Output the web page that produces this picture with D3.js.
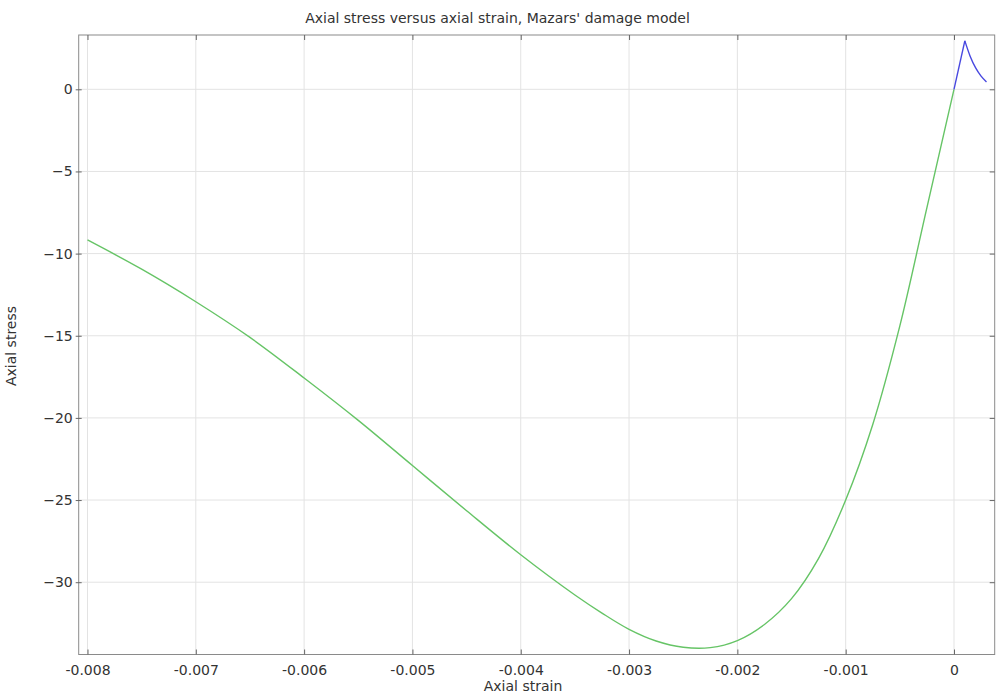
<!DOCTYPE html>
<html>
<head>
<meta charset="utf-8">
<script src="https://cdn.jsdelivr.net/npm/d3@7"></script>
<style>
  body { margin: 0; background: #fff; }
  text { font-family: "DejaVu Sans", sans-serif; fill: #333; }
</style>
</head>
<body>
<div id="chart"></div>
<script>
// courbe contrainte / deformation axiale (modele de Mazars)
const chartTitle = "Axial stress versus axial strain, Mazars' damage model"
const xLabel = "Axial strain", yLabel = "Axial stress"

// branche compression (vert)
const compStrain = [-0.008, -0.0075, -0.007, -0.0065, -0.006, -0.0055, -0.005, -0.0045, -0.004,
  -0.0035, -0.00325, -0.003, -0.00275, -0.0025, -0.00225, -0.002, -0.00175, -0.0015, -0.00125,
  -0.001, -0.00075, -0.0005, -0.00025, 0]
const compStress = [-9.17, -10.95, -12.93, -15.1, -17.57, -20.15, -22.9, -25.65, -28.33,
  -30.78, -31.88, -32.87, -33.58, -33.96, -33.98, -33.55, -32.57, -31.0, -28.55,
  -25.0, -20.4, -14.4, -7.2, 0]
// branche traction (bleu)
const tensStrain = [0, 0.0001, 0.00015, 0.0002, 0.00025, 0.0003]
const tensStress = [0, 2.95, 2.0, 1.3, 0.8, 0.45]

const xTicks = [-0.008, -0.007, -0.006, -0.005, -0.004, -0.003, -0.002, -0.001, 0]
const yTicks = [0, -5, -10, -15, -20, -25, -30]

const W = 1000, H = 695
const pLeft = 78.7, pRight = 994.7, pTop = 35, pBottom = 654.5

const x = d3.scaleLinear().domain([-0.0080812, 0.0003758]).range([pLeft, pRight])
const y = d3.scaleLinear().domain([-34.40, 3.305]).range([pBottom, pTop])

const svg = d3.select("#chart").append("svg").attr("width", W).attr("height", H)

// grille
svg.append("g").selectAll("line").data(xTicks).enter().append("line")
  .attr("x1", d => x(d)).attr("x2", d => x(d)).attr("y1", pTop).attr("y2", pBottom)
  .attr("stroke", "#e3e3e3").attr("stroke-width", 1)
svg.append("g").selectAll("line").data(yTicks).enter().append("line")
  .attr("y1", d => y(d)).attr("y2", d => y(d)).attr("x1", pLeft).attr("x2", pRight)
  .attr("stroke", "#e3e3e3").attr("stroke-width", 1)

// courbes
const smooth = d3.line().x(d => x(d[0])).y(d => y(d[1])).curve(d3.curveCatmullRom.alpha(0.5))
const straight = d3.line().x(d => x(d[0])).y(d => y(d[1]))
const tens = tensStrain.map((s, i) => [s, tensStress[i]])
const plot = svg.append("g").attr("fill", "none").attr("stroke-width", 1.4)
plot.append("path").datum(compStrain.map((s, i) => [s, compStress[i]]))
  .attr("d", smooth).attr("stroke", "#66c466")
// montee elastique puis adoucissement (pic anguleux)
plot.append("path").datum(tens.slice(0, 2)).attr("d", straight).attr("stroke", "#4848e0")
plot.append("path").datum(tens.slice(1)).attr("d", d3.line().x(d => x(d[0])).y(d => y(d[1])).curve(d3.curveMonotoneX))
  .attr("stroke", "#4848e0")

// cadre
svg.append("rect").attr("x", pLeft).attr("y", pTop).attr("width", pRight - pLeft).attr("height", pBottom - pTop)
  .attr("fill", "none").attr("stroke", "#8a8a8a").attr("stroke-width", 1)

// axes (ticks interieurs)
const axB = svg.append("g").attr("transform", `translate(0,${pBottom})`)
  .call(d3.axisBottom(x).tickValues(xTicks).tickSizeInner(-5).tickSizeOuter(0).tickPadding(10.5)
    .tickFormat(d => d === 0 ? "0" : String(d)))
const axT = svg.append("g").attr("transform", `translate(0,${pTop})`)
  .call(d3.axisTop(x).tickValues(xTicks).tickSizeInner(-5).tickSizeOuter(0).tickFormat(""))
const axL = svg.append("g").attr("transform", `translate(${pLeft},0)`)
  .call(d3.axisLeft(y).tickValues(yTicks).tickSizeInner(3).tickSizeOuter(0).tickPadding(3))
const axR = svg.append("g").attr("transform", `translate(${pRight},0)`)
  .call(d3.axisRight(y).tickValues(yTicks).tickSizeInner(-5).tickSizeOuter(0).tickFormat(""))
;[axB, axT, axL, axR].forEach(a => {
  a.select(".domain").remove()
  a.selectAll("line").attr("stroke", "#666")
  a.selectAll("text").attr("font-family", "DejaVu Sans").attr("font-size", 14).attr("fill", "#444")
})
axL.selectAll(".tick line").attr("x1", 3)

// titres
svg.append("text").attr("x", 497.5).attr("y", 23).attr("text-anchor", "middle")
  .attr("font-size", 14).text(chartTitle)
svg.append("text").attr("x", 523).attr("y", 691).attr("text-anchor", "middle")
  .attr("font-size", 14).text(xLabel)
svg.append("text").attr("transform", "translate(16,346) rotate(-90)").attr("text-anchor", "middle")
  .attr("font-size", 14).text(yLabel)
</script>
</body>
</html>
